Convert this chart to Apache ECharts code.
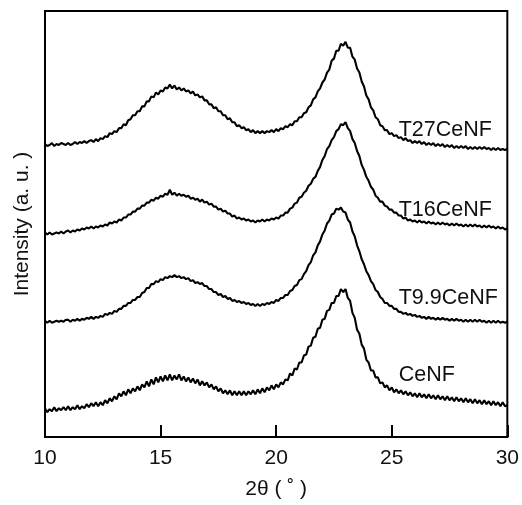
<!DOCTYPE html>
<html>
<head>
<meta charset="utf-8">
<script src="https://cdn.jsdelivr.net/npm/echarts@6/dist/echarts.min.js"></script>
<style>
html,body{margin:0;padding:0;background:#fff;}
#chart{width:522px;height:505px;}
</style>
</head>
<body>
<div id="chart"></div>
<script>
// 2θ sampling grid (degrees)
var twoTheta = [
10.0,10.1,10.2,10.3,10.4,10.5,10.6,10.7,10.8,10.9,
11.0,11.1,11.2,11.3,11.4,11.5,11.6,11.7,11.8,11.9,
12.0,12.1,12.2,12.3,12.4,12.5,12.6,12.7,12.8,12.9,
13.0,13.1,13.2,13.3,13.4,13.5,13.6,13.7,13.8,13.9,
14.0,14.1,14.2,14.3,14.4,14.5,14.6,14.7,14.8,14.9,
15.0,15.1,15.2,15.3,15.4,15.5,15.6,15.7,15.8,15.9,
16.0,16.1,16.2,16.3,16.4,16.5,16.6,16.7,16.8,16.9,
17.0,17.1,17.2,17.3,17.4,17.5,17.6,17.7,17.8,17.9,
18.0,18.1,18.2,18.3,18.4,18.5,18.6,18.7,18.8,18.9,
19.0,19.1,19.2,19.3,19.4,19.5,19.6,19.7,19.8,19.9,
20.0,20.1,20.2,20.3,20.4,20.5,20.6,20.7,20.8,20.9,
21.0,21.1,21.2,21.3,21.4,21.5,21.6,21.7,21.8,21.9,
22.0,22.1,22.2,22.3,22.4,22.5,22.6,22.7,22.8,22.9,
23.0,23.1,23.2,23.3,23.4,23.5,23.6,23.7,23.8,23.9,
24.0,24.1,24.2,24.3,24.4,24.5,24.6,24.7,24.8,24.9,
25.0,25.1,25.2,25.3,25.4,25.5,25.6,25.7,25.8,25.9,
26.0,26.1,26.2,26.3,26.4,26.5,26.6,26.7,26.8,26.9,
27.0,27.1,27.2,27.3,27.4,27.5,27.6,27.7,27.8,27.9,
28.0,28.1,28.2,28.3,28.4,28.5,28.6,28.7,28.8,28.9,
29.0,29.1,29.2,29.3,29.4,29.5,29.6,29.7,29.8,29.9,
30.0];

// Intensities (a. u., offset-stacked as in the figure)
var T27CeNF = [
295,293,294,296,293,295,294,296,295,294,
296,294,295,297,295,297,296,298,296,298,
299,297,300,298,301,300,303,302,306,305,
308,307,311,311,315,314,319,320,324,324,
328,328,333,333,338,338,343,342,347,345,
349,348,352,351,355,351,354,350,352,349,
351,348,349,346,348,344,345,342,343,339,
339,335,335,331,332,328,328,324,324,320,
321,317,317,313,314,311,312,309,310,307,
309,306,308,306,308,306,308,307,309,307,
310,308,311,310,313,312,315,314,318,318,
322,322,326,327,332,334,340,342,348,351,
357,360,367,370,379,381,389,389,396,394,
398,392,392,383,380,371,367,358,353,344,
340,332,329,322,320,314,313,309,309,305,
306,303,304,301,302,299,301,298,299,296,
298,296,298,295,297,294,296,294,296,293,
295,293,295,292,294,292,294,291,293,291,
293,291,293,290,292,290,292,290,292,290,
292,290,291,289,291,289,291,289,290,289,
290];

var T16CeNF = [
206,204,206,204,205,206,205,207,205,207,
208,206,208,207,209,208,210,209,211,210,
212,210,212,211,213,212,214,213,216,215,
217,216,219,218,221,221,224,224,227,227,
230,230,233,233,236,236,239,238,241,240,
243,242,245,244,249,244,246,243,245,243,
244,242,243,240,241,239,240,237,239,236,
237,234,235,232,232,229,230,227,228,225,
225,222,223,220,221,219,220,218,219,217,
218,216,218,217,219,217,219,218,220,219,
221,220,223,223,226,226,230,231,235,236,
241,242,246,248,253,255,260,262,268,272,
279,283,290,293,299,302,308,310,315,314,
317,311,308,300,296,288,283,274,269,262,
258,252,249,243,241,237,237,233,232,229,
229,226,226,223,223,220,221,218,219,217,
218,216,218,216,217,215,217,215,216,214,
216,214,216,214,215,213,215,213,215,213,
214,212,214,212,214,212,214,212,213,211,
213,211,213,211,212,210,212,210,211,209,
210];

var T99CeNF = [
117,115,117,115,116,117,116,117,116,118,
118,116,118,117,119,117,119,118,120,119,
121,119,121,120,122,121,124,123,125,124,
127,126,129,129,132,132,135,135,138,138,
141,141,145,146,150,150,154,154,157,156,
159,158,161,160,162,161,163,161,162,160,
161,159,160,157,158,155,156,154,155,152,
152,149,149,146,146,143,144,141,142,139,
140,137,138,136,137,135,136,134,135,133,
134,132,134,132,134,133,135,134,136,135,
138,137,140,140,143,143,147,148,152,153,
158,159,164,167,173,176,183,186,193,197,
204,208,215,218,224,225,230,229,231,227,
226,219,216,207,202,193,187,179,174,167,
163,157,154,148,146,141,139,135,135,132,
132,129,129,126,126,124,125,123,124,122,
123,121,122,120,121,119,121,119,120,118,
120,118,120,118,119,117,119,117,119,117,
118,116,118,116,118,116,118,116,118,116,
117,115,117,115,117,115,117,115,116,115,
116];

var CeNF = [
29,25,28,26,30,26,29,27,30,27,
31,27,30,28,32,28,31,29,33,30,
34,31,35,31,35,32,37,34,39,36,
41,38,44,41,46,42,48,44,49,46,
51,47,53,50,56,51,58,53,60,55,
61,56,62,57,63,57,62,58,63,57,
61,56,60,55,59,54,58,52,56,52,
55,50,53,48,51,46,49,44,47,43,
47,42,46,42,46,42,46,42,46,43,
47,43,48,44,49,45,50,47,52,48,
53,50,55,53,58,57,64,62,69,68,
75,75,82,83,91,92,100,101,109,110,
118,119,127,128,135,135,142,142,149,146,
149,140,137,125,120,108,104,93,89,78,
75,67,67,60,60,54,55,50,52,47,
50,45,48,44,47,43,46,42,45,41,
44,40,44,40,43,39,43,39,42,38,
42,38,41,37,41,37,40,36,40,36,
39,35,39,35,38,34,38,34,37,33,
37,33,36,32,36,32,35,31,35,31,
32];

var seriesNames = ['T27CeNF','T16CeNF','T9.9CeNF','CeNF'];
var seriesValues = [T27CeNF, T16CeNF, T99CeNF, CeNF];
// label anchor (2θ, intensity) for each curve's name
var labelX = 25.3;
var labelY = [309, 229, 140, 62];

var xTicks = [10, 15, 20, 25, 30];

function pairs(vals){
  var out = [];
  for (var i = 0; i < twoTheta.length; i++) out.push([twoTheta[i], vals[i]]);
  return out;
}

var FONT = 'Liberation Sans, Arial, Helvetica, sans-serif';
var series = seriesNames.map(function(n, k){
  return {
    name: n,
    type: 'line',
    data: pairs(seriesValues[k]),
    showSymbol: false,
    symbol: 'none',
    lineStyle: {color: '#000', width: 2.1},
    silent: true,
    markPoint: {
      symbol: 'circle',
      symbolSize: 0,
      silent: true,
      label: {
        show: true,
        position: 'right',
        distance: 0,
        color: '#111',
        fontSize: 21.5,
        fontFamily: FONT,
        formatter: n
      },
      data: [{coord: [labelX, labelY[k]]}]
    }
  };
});

var chart = echarts.init(document.getElementById('chart'), null, {renderer: 'canvas'});
chart.setOption({
  animation: false,
  backgroundColor: '#fff',
  grid: {left: 45, right: 13, top: 11, bottom: 65, show: true, borderColor: '#000', borderWidth: 2, backgroundColor: 'transparent'},
  xAxis: {
    type: 'value',
    min: xTicks[0],
    max: xTicks[xTicks.length - 1],
    interval: 5,
    name: '2θ ( ˚ )',
    nameLocation: 'middle',
    nameGap: 42,
    nameTextStyle: {fontSize: 21, color: '#111', fontFamily: FONT},
    axisLine: {show: true, lineStyle: {color: '#000', width: 2}},
    axisTick: {show: true, inside: true, length: 12, lineStyle: {color: '#000', width: 2}},
    axisLabel: {fontSize: 21, color: '#111', margin: 11, fontFamily: FONT},
    splitLine: {show: false}
  },
  yAxis: {
    type: 'value',
    min: 0,
    max: 429,
    name: 'Intensity (a. u. )',
    nameLocation: 'middle',
    nameGap: 12,
    nameTextStyle: {fontSize: 21, color: '#111', fontFamily: FONT},
    axisLine: {show: true, lineStyle: {color: '#000', width: 2}},
    axisTick: {show: false},
    axisLabel: {show: false},
    splitLine: {show: false}
  },
  series: series
});
</script>
</body>
</html>
